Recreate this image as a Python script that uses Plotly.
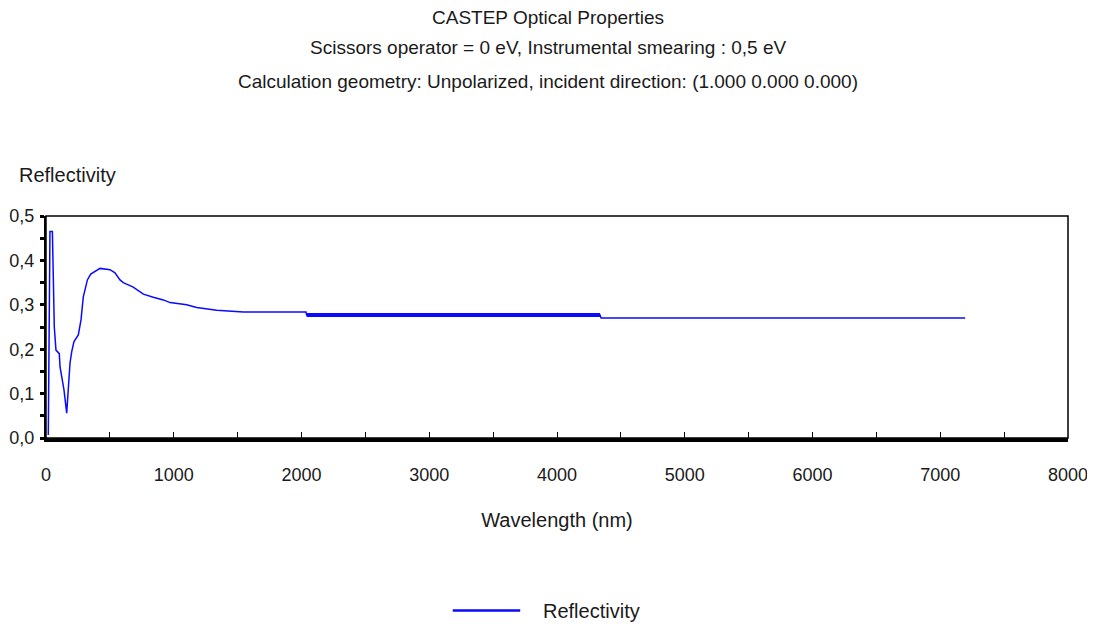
import plotly.graph_objects as go

# Data
wavelength_nm = [18, 31, 50, 57, 65, 78, 104, 110, 131, 141, 162, 175, 188, 201, 219,
                 253, 274, 292, 324, 350, 397, 423, 501, 540, 579, 605, 683, 762, 840,
                 918, 971, 1049, 1101, 1180, 1336, 1545, 2035, 2040, 4337, 4345, 7195]
reflectivity = [0.007, 0.465, 0.465, 0.35, 0.25, 0.198, 0.19, 0.16, 0.13, 0.108, 0.056,
                0.116, 0.169, 0.194, 0.217, 0.232, 0.266, 0.318, 0.356, 0.369, 0.378,
                0.382, 0.379, 0.372, 0.356, 0.350, 0.340, 0.324, 0.317, 0.311, 0.305,
                0.302, 0.300, 0.294, 0.288, 0.284, 0.284, 0.277, 0.277, 0.270, 0.270]
# densely sampled (visually thick) stretch of the curve
dense_wavelength_nm = [2040, 4337]
dense_reflectivity = [0.277, 0.277]

x_tickvals = [0, 1000, 2000, 3000, 4000, 5000, 6000, 7000, 8000]
x_ticktext = ["0", "1000", "2000", "3000", "4000", "5000", "6000", "7000", "8000"]
y_tickvals = [0.0, 0.1, 0.2, 0.3, 0.4, 0.5]
y_ticktext = ["0,0", "0,1", "0,2", "0,3", "0,4", "0,5"]

title_lines = [
    "CASTEP Optical Properties",
    "Scissors operator = 0 eV, Instrumental smearing : 0,5 eV",
    "Calculation geometry: Unpolarized, incident direction: (1.000 0.000 0.000)",
]
series_name = "Reflectivity"

FONT = "Liberation Sans, Arial, sans-serif"
TXT = "#1a1a1a"
BLUE = "#0a0aff"

fig = go.Figure()
fig.add_trace(go.Scatter(x=wavelength_nm, y=reflectivity, mode="lines",
                         name=series_name, showlegend=False,
                         line=dict(color=BLUE, width=1.5)))
fig.add_trace(go.Scatter(x=dense_wavelength_nm, y=dense_reflectivity, mode="lines",
                         name=series_name, showlegend=False,
                         line=dict(color=BLUE, width=4)))

annotations = []
for text, ypos in zip(title_lines, [1.892, 1.757, 1.604]):
    annotations.append(dict(text=text, xref="paper", yref="paper", x=0.491, y=ypos,
                            xanchor="center", yanchor="middle", showarrow=False,
                            font=dict(family=FONT, size=19, color=TXT)))
annotations.append(dict(text="Reflectivity", xref="paper", yref="paper", x=-0.0284, y=1.185,
                        xanchor="left", yanchor="middle", showarrow=False,
                        font=dict(family=FONT, size=20, color=TXT)))
# legend (drawn manually so the long legend line matches the original)
annotations.append(dict(text=series_name, xref="paper", yref="paper", x=0.484, y=-0.779,
                        xanchor="left", yanchor="middle", showarrow=False,
                        font=dict(family=FONT, size=20, color=TXT)))

shapes = [
    dict(type="rect", xref="paper", yref="paper", x0=0, x1=1, y0=0, y1=1,
         line=dict(color="black", width=1.5), layer="above"),
    dict(type="line", xref="paper", yref="paper", x0=0.398, x1=0.464, y0=-0.777, y1=-0.777,
         line=dict(color=BLUE, width=2.5)),
]

fig.update_layout(
    width=1087, height=621,
    paper_bgcolor="white", plot_bgcolor="white",
    margin=dict(l=38, r=27, t=208, b=191),
    font=dict(family=FONT, size=18, color=TXT),
    showlegend=False,
    xaxis=dict(range=[0, 8000], tickvals=x_tickvals, ticktext=x_ticktext, automargin=False,
               showgrid=False, zeroline=False, showline=True, linecolor="black", linewidth=4,
               ticks="inside", ticklen=6, tickwidth=1, tickcolor="black",
               minor=dict(dtick=500, ticks="inside", ticklen=6, tickwidth=1, tickcolor="black"),
               ticklabelstandoff=17,
               tickfont=dict(family=FONT, size=18, color=TXT),
               title=dict(text="Wavelength (nm)", standoff=30,
                          font=dict(family=FONT, size=20, color=TXT))),
    yaxis=dict(range=[0, 0.5], tickvals=y_tickvals, ticktext=y_ticktext, automargin=False,
               showgrid=False, zeroline=False, showline=True, linecolor="black", linewidth=2,
               ticks="outside", ticklen=4, tickwidth=3, tickcolor="black",
               minor=dict(dtick=0.05, ticks="outside", ticklen=4, tickwidth=3, tickcolor="black"),
               ticklabelstandoff=2,
               tickfont=dict(family=FONT, size=18, color=TXT)),
    shapes=shapes,
    annotations=annotations,
)

fig.write_html("out.html")
